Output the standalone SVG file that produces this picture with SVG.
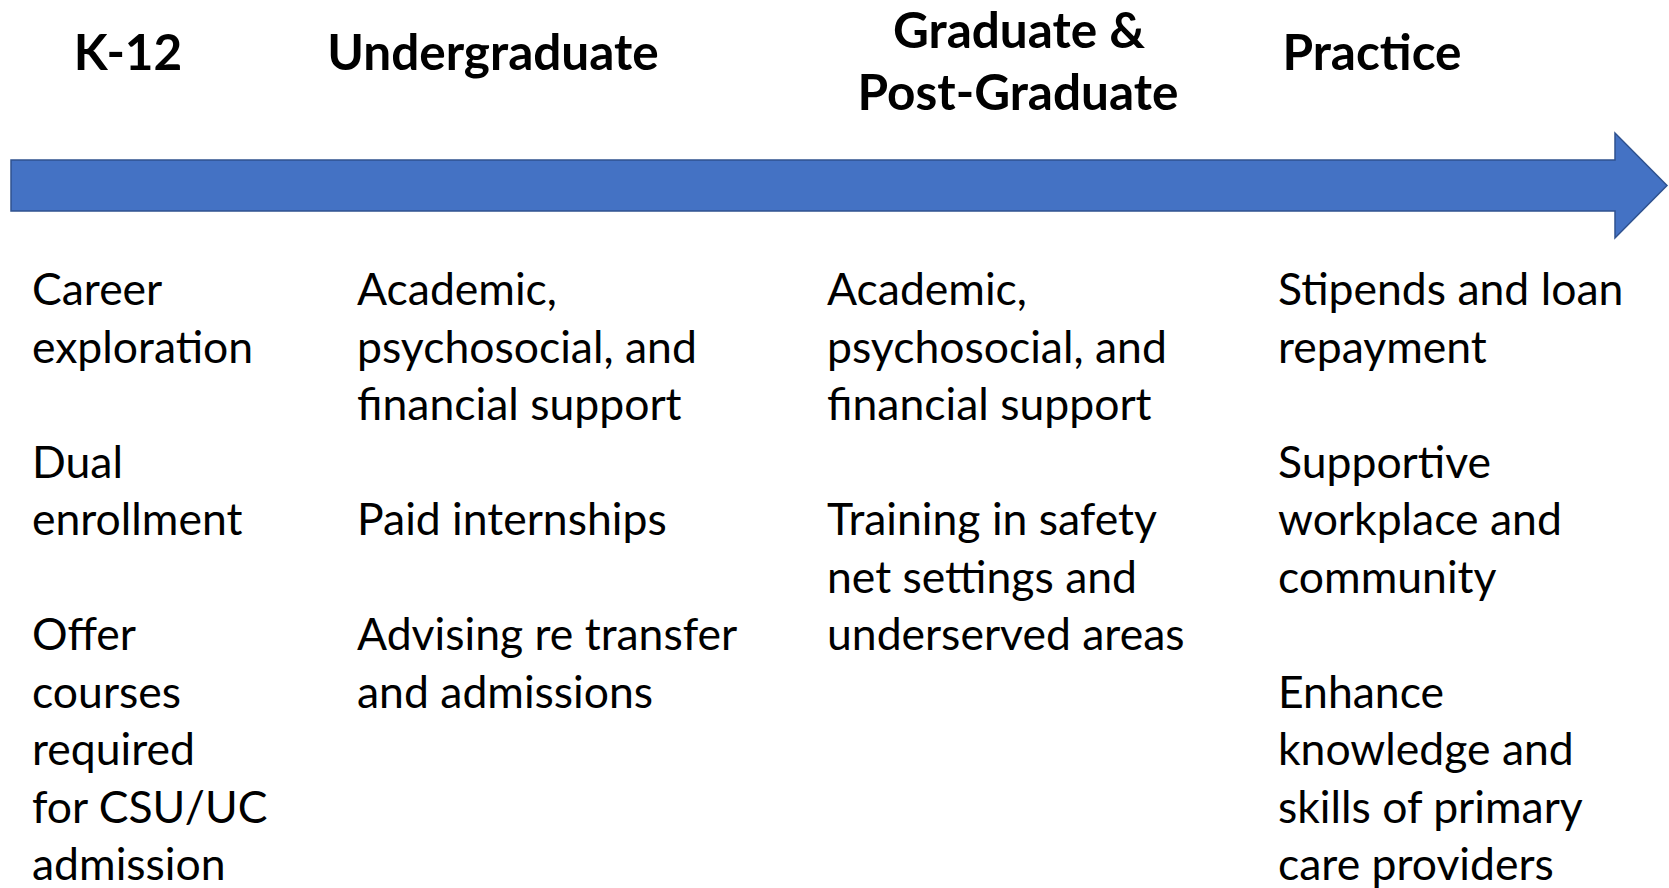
<svg xmlns="http://www.w3.org/2000/svg" width="1669" height="888" viewBox="0 0 1669 888">
<style>
.h{font-family:Lato,"Open Sans","Liberation Sans",sans-serif;font-weight:bold;font-size:49.5px;fill:#000;text-anchor:middle}
.b{font-family:Lato,"Open Sans","Liberation Sans",sans-serif;font-size:44.5px;fill:#000}
</style>
<rect width="1669" height="888" fill="#fff"/>
<g id="connectors">
<polygon id="timeline-arrow" points="11,160 1615,160 1615,133 1667,185.5 1615,238 1615,211 11,211" fill="#4472C4" stroke="#2F528F" stroke-width="1.5"/>
</g>
<g id="k12">
<text class="h" x="128" y="70">K-12</text>
<text class="b"><tspan x="32" y="305">Career</tspan><tspan x="32" y="362.5">exploration</tspan><tspan x="32" y="477.5">Dual</tspan><tspan x="32" y="535">enrollment</tspan><tspan x="32" y="650">Offer</tspan><tspan x="32" y="707.5">courses</tspan><tspan x="32" y="765">required</tspan><tspan x="32" y="822.5">for CSU/UC</tspan><tspan x="32" y="880">admission</tspan></text>
</g>
<g id="undergraduate">
<text class="h" x="493" y="70">Undergraduate</text>
<text class="b"><tspan x="357" y="305">Academic,</tspan><tspan x="357" y="362.5">psychosocial, and</tspan><tspan x="357" y="420">financial support</tspan><tspan x="357" y="535">Paid internships</tspan><tspan x="357" y="650">Advising re transfer</tspan><tspan x="357" y="707.5">and admissions</tspan></text>
</g>
<g id="graduate">
<text class="h" x="1019" y="48">Graduate &amp;</text>
<text class="h" x="1018" y="110">Post-Graduate</text>
<text class="b"><tspan x="827" y="305">Academic,</tspan><tspan x="827" y="362.5">psychosocial, and</tspan><tspan x="827" y="420">financial support</tspan><tspan x="827" y="535">Training in safety</tspan><tspan x="827" y="592.5">net settings and</tspan><tspan x="827" y="650">underserved areas</tspan></text>
</g>
<g id="practice">
<text class="h" x="1372" y="70">Practice</text>
<text class="b"><tspan x="1278" y="305">Stipends and loan</tspan><tspan x="1278" y="362.5">repayment</tspan><tspan x="1278" y="477.5">Supportive</tspan><tspan x="1278" y="535">workplace and</tspan><tspan x="1278" y="592.5">community</tspan><tspan x="1278" y="707.5">Enhance</tspan><tspan x="1278" y="765">knowledge and</tspan><tspan x="1278" y="822.5">skills of primary</tspan><tspan x="1278" y="880">care providers</tspan></text>
</g>
</svg>
